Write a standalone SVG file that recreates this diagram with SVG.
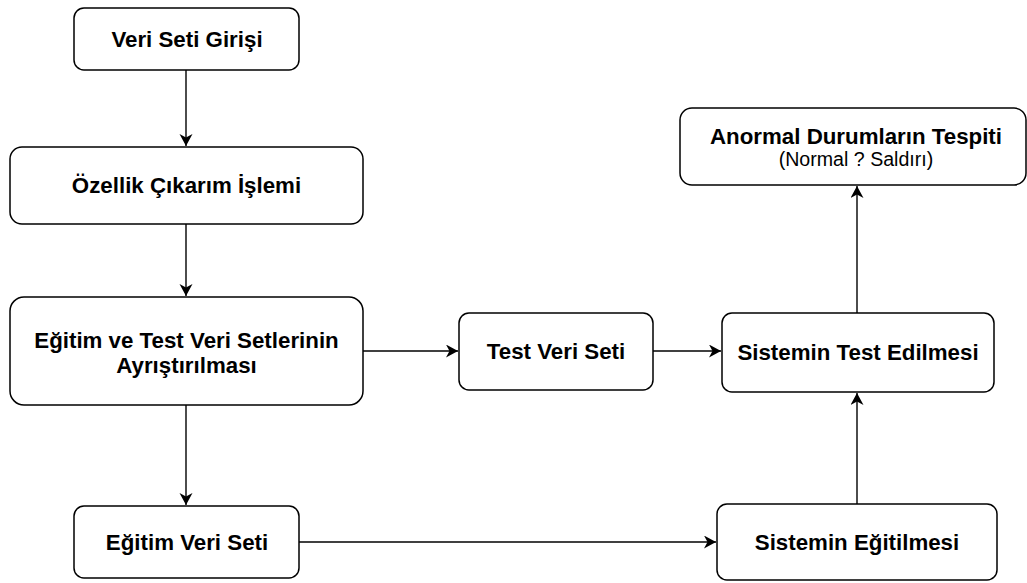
<svg xmlns="http://www.w3.org/2000/svg" width="1027" height="583" viewBox="0 0 1027 583">
<style>
.box{fill:#fff;stroke:#000;stroke-width:1.5}
.t{font-family:"Liberation Sans",Arial,sans-serif;font-weight:bold;font-size:22.3px;fill:#000;text-anchor:middle}
.s{font-family:"Liberation Sans",Arial,sans-serif;font-size:19.6px;fill:#000;text-anchor:middle}
.c{fill:none;stroke:#000;stroke-width:1.4}
</style>
<defs>
<marker id="a" markerUnits="userSpaceOnUse" markerWidth="14" markerHeight="14" refX="12" refY="6.5" orient="auto">
<path d="M0,0 L12,6.5 L0,13 L3.5,6.5 Z" fill="#000"/>
</marker>
</defs>
<rect width="1027" height="583" fill="#fff"/>
<g id="connectors">
<path class="c" d="M186,70 V146" marker-end="url(#a)"/>
<path class="c" d="M186,224 V296" marker-end="url(#a)"/>
<path class="c" d="M186,405 V505" marker-end="url(#a)"/>
<path class="c" d="M363,351 H458" marker-end="url(#a)"/>
<path class="c" d="M653,351 H721" marker-end="url(#a)"/>
<path class="c" d="M299,542 H716" marker-end="url(#a)"/>
<path class="c" d="M857,504 V393" marker-end="url(#a)"/>
<path class="c" d="M857,313 V186" marker-end="url(#a)"/>
</g>
<g id="n1"><rect class="box" x="74" y="8" width="225" height="62" rx="10"/><text class="t" x="187" y="47">Veri Seti Girişi</text></g>
<g id="n2"><rect class="box" x="10" y="147" width="353" height="77" rx="12"/><text class="t" x="186.5" y="193">Özellik Çıkarım İşlemi</text></g>
<g id="n3"><rect class="box" x="10" y="297" width="353" height="108" rx="14"/><text class="t" x="186.5" y="348">Eğitim ve Test Veri Setlerinin</text><text class="t" x="186.5" y="373">Ayrıştırılması</text></g>
<g id="n4"><rect class="box" x="74" y="506" width="225" height="72" rx="10"/><text class="t" x="187" y="550">Eğitim Veri Seti</text></g>
<g id="n5"><rect class="box" x="459" y="313" width="194" height="77" rx="10"/><text class="t" x="556" y="359">Test Veri Seti</text></g>
<g id="n6"><rect class="box" x="722" y="313" width="272" height="79" rx="10"/><text class="t" x="858" y="360">Sistemin Test Edilmesi</text></g>
<g id="n7"><rect class="box" x="680" y="108" width="346" height="77" rx="12"/><text class="t" x="856" y="144">Anormal Durumların Tespiti</text><text class="s" x="856" y="166">(Normal ? Saldırı)</text></g>
<g id="n8"><rect class="box" x="717" y="504" width="280" height="76" rx="10"/><text class="t" x="857" y="550">Sistemin Eğitilmesi</text></g>
</svg>
